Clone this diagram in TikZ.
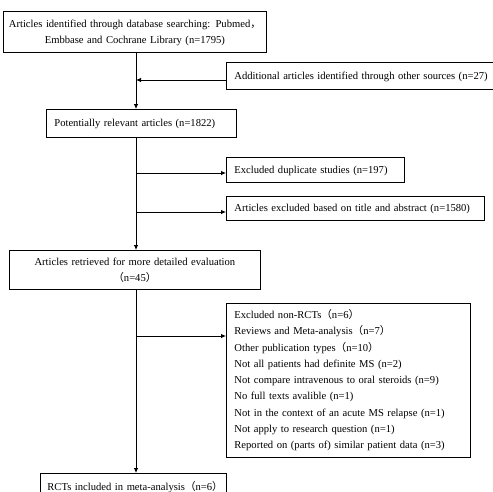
\documentclass[tikz,border=0pt]{standalone}
\usepackage{fontspec}
\setmainfont{Liberation Serif}
\newfontfamily\cjk{Noto Sans CJK SC}
\newcommand{\lpar}{{\cjk （}}
\newcommand{\rpar}{{\cjk ）}}
\newcommand{\wcomma}{{\cjk ，}}
\newcommand{\lines}[2][l]{\begin{tabular}{@{}#1@{}}#2\end{tabular}}
\usetikzlibrary{arrows.meta}

\begin{document}
\begin{tikzpicture}[
  x=1pt,y=-1pt,
  font=\fontsize{10.6}{16.3}\selectfont,
  box/.style={draw,line width=0.8pt,anchor=north west,inner xsep=8pt,inner ysep=0pt,align=left},
  arr/.style={-{Latex[length=5pt,width=4.5pt]},line width=0.8pt}
]
\clip (0,0) rectangle (493,491);
\node[box,align=center,inner xsep=2pt,text width=259pt,minimum height=41pt] (src) at (3,11)
  {\lines[c]{Articles identified through database searching: Pubmed\wcomma\\Embbase and Cochrane Library (n=1795)}};
\node[box,text width=270pt,minimum height=27pt] (add) at (226,62)
  {\lines{Additional articles identified through other sources (n=27)}};
\node[box,text width=174pt,minimum height=28pt] (pot) at (46,109)
  {\lines{Potentially relevant articles (n=1822)}};
\node[box,text width=162pt,minimum height=25pt] (dup) at (226,157)
  {\lines{Excluded duplicate studies (n=197)}};
\node[box,text width=242pt,minimum height=24pt] (tit) at (226,196)
  {\lines{Articles excluded based on title and abstract (n=1580)}};
\node[box,align=center,text width=235pt,minimum height=39pt] (ret) at (9,250)
  {\lines[c]{Articles retrieved for more detailed evaluation\\\lpar n=45\rpar}};
\node[box,text width=228pt,minimum height=154pt] (exc) at (226,303)
  {\lines{Excluded non-RCTs\lpar n=6\rpar\\
   Reviews and Meta-analysis\lpar n=7\rpar\\
   Other publication types\lpar n=10\rpar\\
   Not all patients had definite MS (n=2)\\
   Not compare intravenous to oral steroids (n=9)\\
   No full texts avalible (n=1)\\
   Not in the context of an acute MS relapse (n=1)\\
   Not apply to research question (n=1)\\
   Reported on (parts of) similar patient data (n=3)}};
\node[box,inner xsep=7pt,text width=172pt,minimum height=27pt] (rct) at (40,473)
  {\lines{RCTs included in meta-analysis\lpar n=6\rpar}};

% trunk junctions
\coordinate (j1) at (136,80);
\coordinate (j2) at (136,173);
\coordinate (j3) at (136,212);
\coordinate (j4) at (136,336);

\draw[arr] (src.south -| j1) -- (pot.north -| j1);
\draw[arr] (add.west |- j1) -- (j1);
\draw[arr] (pot.south -| j2) -- (ret.north -| j2);
\draw[arr] (j2) -- (dup.west |- j2);
\draw[arr] (j3) -- (tit.west |- j3);
\draw[arr] (ret.south -| j4) -- (rct.north -| j4);
\draw[arr] (j4) -- (exc.west |- j4);
\end{tikzpicture}
\end{document}
